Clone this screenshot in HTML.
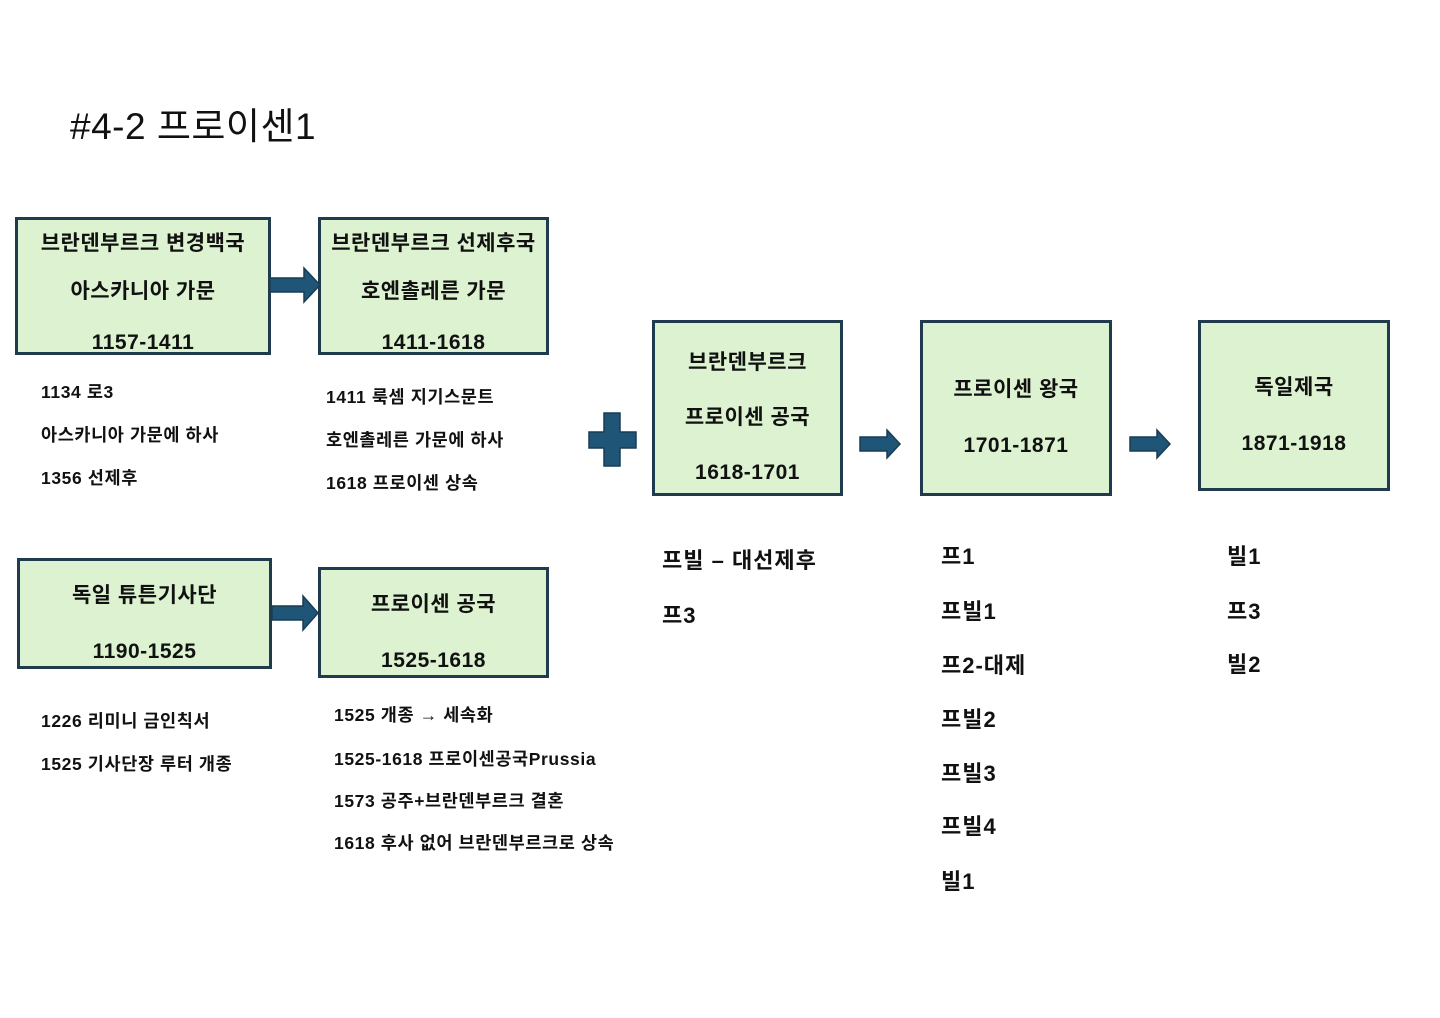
<!DOCTYPE html>
<html><head><meta charset="utf-8"><style>
body{margin:0;width:1440px;height:1018px;background:#fff;position:relative;overflow:hidden;font-family:"Liberation Sans","Noto Sans CJK KR",sans-serif;color:#111}
.b{position:absolute;background:#dcf2d0;border:3px solid #1f3b4d;box-sizing:border-box}
.c{position:absolute;text-align:center;font-weight:bold;font-size:21px;white-space:nowrap;line-height:1;letter-spacing:0.5px}
.t{position:absolute;font-weight:bold;font-size:17.5px;white-space:nowrap;line-height:1;letter-spacing:0.6px}
.u{position:absolute;font-weight:bold;font-size:22px;white-space:nowrap;line-height:1;letter-spacing:1px}
</style></head><body>
<div style="position:absolute;left:70px;top:108px;font-size:37px;line-height:1;letter-spacing:0.5px">#4-2 프로이센1</div>

<div class="b" style="left:15px;top:217px;width:256px;height:138px"></div>
<div class="c" style="left:15px;width:256px;top:233px">브란덴부르크 변경백국</div>
<div class="c" style="left:15px;width:256px;top:281px">아스카니아 가문</div>
<div class="c" style="left:15px;width:256px;top:332px">1157-1411</div>

<div class="b" style="left:318px;top:217px;width:231px;height:138px"></div>
<div class="c" style="left:318px;width:231px;top:233px">브란덴부르크 선제후국</div>
<div class="c" style="left:318px;width:231px;top:281px">호엔촐레른 가문</div>
<div class="c" style="left:318px;width:231px;top:332px">1411-1618</div>

<div class="b" style="left:652px;top:320px;width:191px;height:176px"></div>
<div class="c" style="left:652px;width:191px;top:352px">브란덴부르크</div>
<div class="c" style="left:652px;width:191px;top:407px">프로이센 공국</div>
<div class="c" style="left:652px;width:191px;top:462px">1618-1701</div>

<div class="b" style="left:920px;top:320px;width:192px;height:176px"></div>
<div class="c" style="left:920px;width:192px;top:379px">프로이센 왕국</div>
<div class="c" style="left:920px;width:192px;top:435px">1701-1871</div>

<div class="b" style="left:1198px;top:320px;width:192px;height:171px"></div>
<div class="c" style="left:1198px;width:192px;top:377px">독일제국</div>
<div class="c" style="left:1198px;width:192px;top:433px">1871-1918</div>

<div class="b" style="left:17px;top:558px;width:255px;height:111px"></div>
<div class="c" style="left:17px;width:255px;top:585px">독일 튜튼기사단</div>
<div class="c" style="left:17px;width:255px;top:641px">1190-1525</div>

<div class="b" style="left:318px;top:567px;width:231px;height:111px"></div>
<div class="c" style="left:318px;width:231px;top:594px">프로이센 공국</div>
<div class="c" style="left:318px;width:231px;top:650px">1525-1618</div>

<svg style="position:absolute;left:0;top:0" width="1440" height="1018">
<g fill="#1f5577" stroke="#1a3d55" stroke-width="1.5">
<polygon points="270,278 304,278 304,268 320,285 304,302 304,292 270,292"/>
<polygon points="272,606 303,606 303,596 318,613 303,630 303,620 272,620"/>
<polygon points="860,437 887,437 887,430 900,444 887,458 887,451 860,451"/>
<polygon points="1130,437 1157,437 1157,430 1170,444 1157,458 1157,451 1130,451"/>
<polygon points="604,413 620,413 620,432 636,432 636,448 620,448 620,466 604,466 604,448 589,448 589,432 604,432"/>
</g></svg>

<div class="t" style="left:41px;top:384px">1134 로3</div>
<div class="t" style="left:41px;top:427px">아스카니아 가문에 하사</div>
<div class="t" style="left:41px;top:470px">1356 선제후</div>

<div class="t" style="left:326px;top:389px">1411 룩셈 지기스문트</div>
<div class="t" style="left:326px;top:432px">호엔촐레른 가문에 하사</div>
<div class="t" style="left:326px;top:475px">1618 프로이센 상속</div>

<div class="t" style="left:41px;top:713px">1226 리미니 금인칙서</div>
<div class="t" style="left:41px;top:756px">1525 기사단장 루터 개종</div>

<div class="t" style="left:334px;top:707px">1525 개종 → 세속화</div>
<div class="t" style="left:334px;top:751px">1525-1618 프로이센공국Prussia</div>
<div class="t" style="left:334px;top:793px">1573 공주+브란덴부르크 결혼</div>
<div class="t" style="left:334px;top:835px">1618 후사 없어 브란덴부르크로 상속</div>

<div class="u" style="left:662px;top:550px">프빌 – 대선제후</div>
<div class="u" style="left:662px;top:605px">프3</div>

<div class="u" style="left:941px;top:546px">프1</div>
<div class="u" style="left:941px;top:601px">프빌1</div>
<div class="u" style="left:941px;top:655px">프2-대제</div>
<div class="u" style="left:941px;top:709px">프빌2</div>
<div class="u" style="left:941px;top:763px">프빌3</div>
<div class="u" style="left:941px;top:816px">프빌4</div>
<div class="u" style="left:941px;top:871px">빌1</div>

<div class="u" style="left:1227px;top:546px">빌1</div>
<div class="u" style="left:1227px;top:601px">프3</div>
<div class="u" style="left:1227px;top:654px">빌2</div>
</body></html>
